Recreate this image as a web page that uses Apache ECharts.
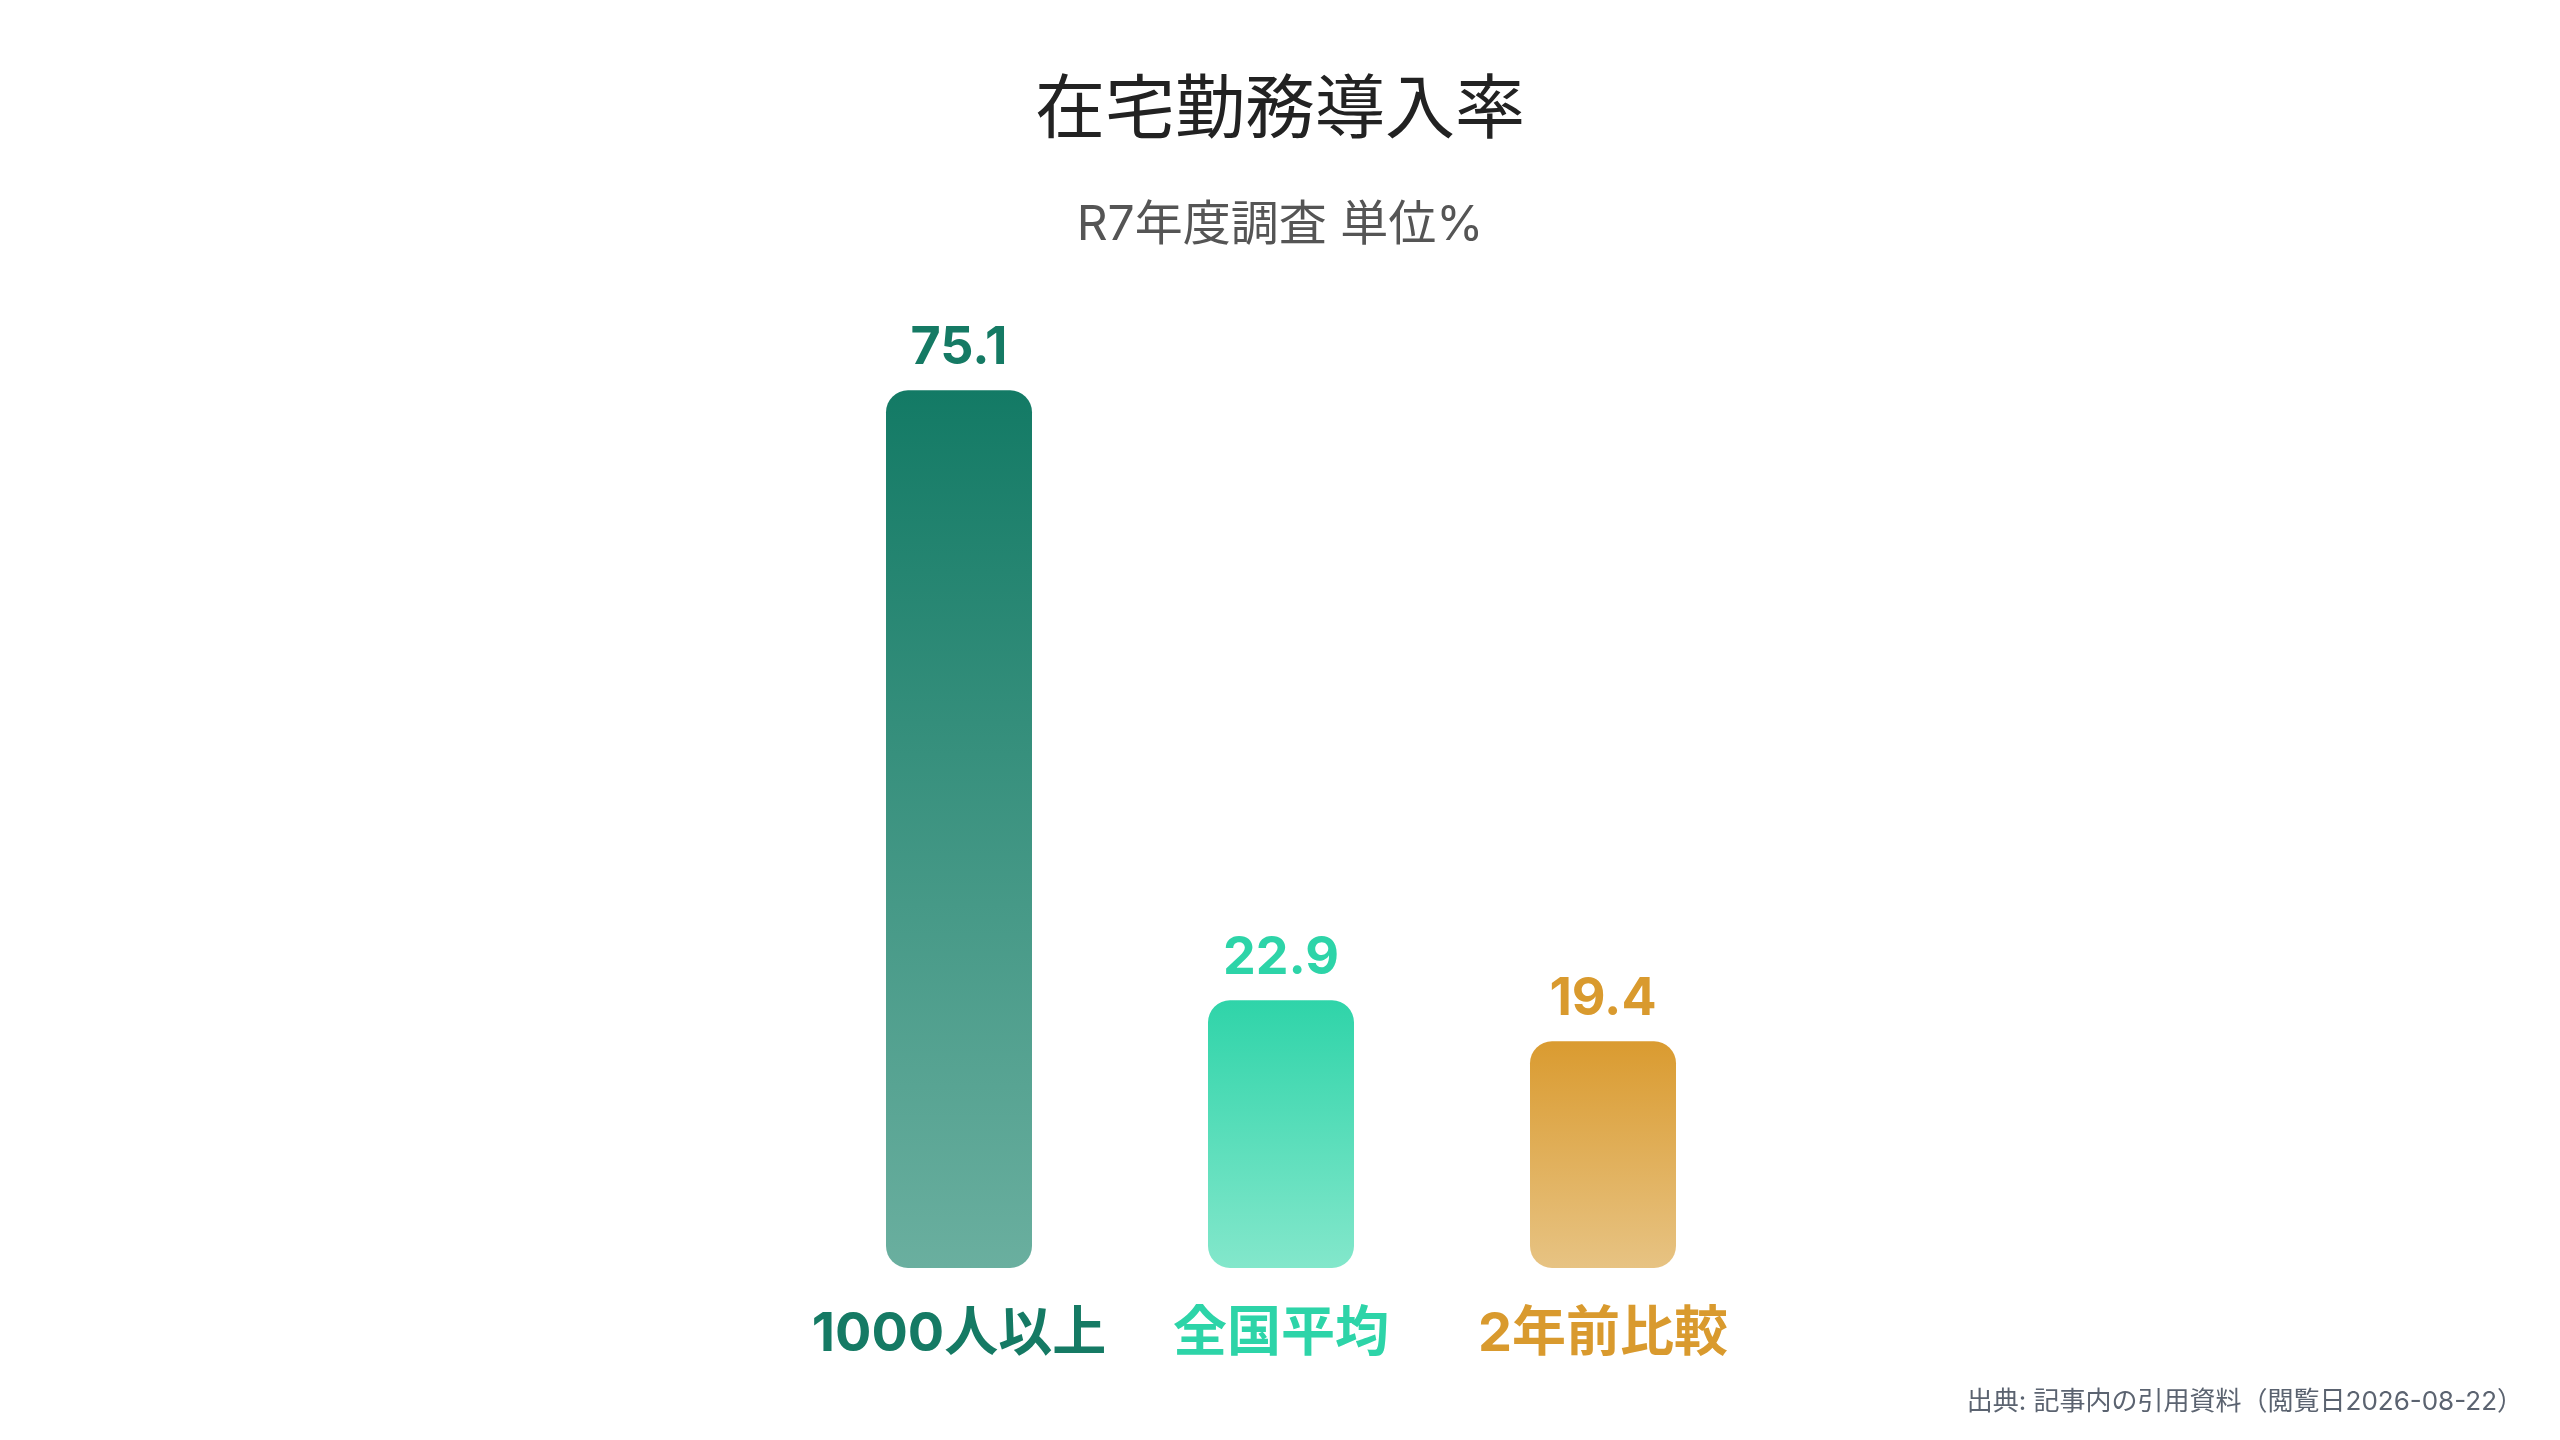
<!DOCTYPE html>
<html lang="ja">
<head>
<meta charset="UTF-8">
<title>在宅勤務導入率</title>
<script src="https://cdn.jsdelivr.net/npm/echarts@6/dist/echarts.min.js"></script>
<style>
  html, body { margin: 0; padding: 0; background: #fff; }
  #main { width: 2560px; height: 1440px; }
</style>
</head>
<body>
<div id="main"></div>
<script>
// データ
var categories = ['1000人以上', '全国平均', '2年前比較'];
var values = [75.1, 22.9, 19.4];
var topColors = ['#137a65', '#2fd4a9', '#da9b30'];
var bottomColors = ['#6aaf9f', '#83e7cb', '#e7c383'];
var labelColors = ['#157a64', '#2dd4a8', '#d99a2e'];

var FONT = "Inter, 'Noto Sans CJK JP', sans-serif";

var chart = echarts.init(document.getElementById('main'));

var barData = [];
var catRich = {};
for (var i = 0; i < values.length; i++) {
  barData.push({
    value: values[i],
    itemStyle: {
      borderRadius: 22,
      color: new echarts.graphic.LinearGradient(0, 0, 0, 1, [
        { offset: 0, color: topColors[i] },
        { offset: 1, color: bottomColors[i] }
      ])
    },
    label: { color: labelColors[i] }
  });
  catRich['c' + i] = {
    fontFamily: FONT,
    fontSize: 54,
    fontWeight: 'bold',
    color: labelColors[i]
  };
}

chart.setOption({
  backgroundColor: '#ffffff',
  title: [
    {
      text: '在宅勤務導入率',
      left: 'center',
      top: 72,
      textStyle: { fontFamily: FONT, fontSize: 70, fontWeight: 'normal', color: '#222222' }
    },
    {
      text: 'R7年度調査 単位%',
      left: 'center',
      top: 197,
      textStyle: { fontFamily: FONT, fontSize: 48, fontWeight: 'normal', color: '#555555' }
    },
    {
      text: '出典: 記事内の引用資料（閲覧日2026-08-22）',
      right: 32,
      bottom: 20,
      textStyle: { fontFamily: FONT, fontSize: 26, fontWeight: 'normal', color: '#5b6370' }
    }
  ],
  grid: { left: 798, width: 966, top: 333, bottom: 172 },
  xAxis: {
    type: 'category',
    data: categories,
    axisLine: { show: false },
    axisTick: { show: false },
    axisLabel: {
      interval: 0,
      margin: 40,
      formatter: function (value) {
        return '{c' + categories.indexOf(value) + '|' + value + '}';
      },
      rich: catRich
    }
  },
  yAxis: {
    type: 'value',
    min: 0,
    max: 80,
    show: false,
    splitLine: { show: false }
  },
  series: [{
    type: 'bar',
    barWidth: 146,
    data: barData,
    label: {
      show: true,
      position: 'top',
      distance: 16,
      fontFamily: FONT,
      fontSize: 52,
      fontWeight: 'bold'
    }
  }]
});
</script>
</body>
</html>
